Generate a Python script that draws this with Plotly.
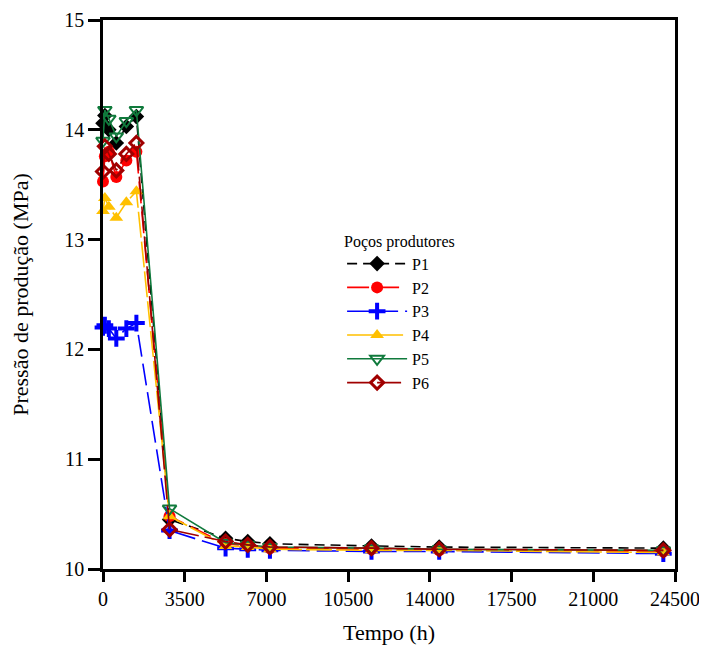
import plotly.graph_objects as go

tempo = [0, 80, 250, 570, 1000, 1430, 2850, 5250, 6200, 7150, 11500, 14400, 24000]
p1 = [14.06, 14.13, 14.00, 13.88, 14.03, 14.12, 10.45, 10.28, 10.25, 10.23, 10.21, 10.20, 10.19]
p2 = [13.53, 13.76, 13.80, 13.57, 13.72, 13.80, 10.48, 10.23, 10.21, 10.19, 10.18, 10.17, 10.16]
p3 = [12.20, 12.22, 12.19, 12.10, 12.19, 12.24, 10.35, 10.19, 10.18, 10.17, 10.16, 10.16, 10.14]
p4 = [13.26, 13.38, 13.30, 13.20, 13.34, 13.44, 10.48, 10.21, 10.20, 10.18, 10.17, 10.17, 10.15]
p5 = [13.90, 14.18, 14.10, 13.94, 14.08, 14.18, 10.55, 10.24, 10.22, 10.20, 10.19, 10.18, 10.17]
p6 = [13.62, 13.85, 13.78, 13.63, 13.78, 13.88, 10.36, 10.25, 10.22, 10.20, 10.19, 10.18, 10.17]

names = ["P1", "P2", "P3", "P4", "P5", "P6"]
series = [p1, p2, p3, p4, p5, p6]
x_ticks = [0, 3500, 7000, 10500, 14000, 17500, 21000, 24500]
y_ticks = [10, 11, 12, 13, 14, 15]

styles = [
    dict(color="#000000", dash="10px,6px", symbol="diamond", msize=12, mline=0),
    dict(color="#ff0000", dash="22px,8px", symbol="circle", msize=12, mline=0),
    dict(color="#0000ff", dash="22px,7px", symbol="cross-thin", msize=12, mline=4),
    dict(color="#ffc000", dash="26px,4px", symbol="triangle-up", msize=12, mline=0),
    dict(color="#107a3c", dash="solid", symbol="triangle-down-open", msize=12, mline=2),
    dict(color="#a00000", dash="24px,6px", symbol="diamond-open", msize=10, mline=3),
]

fig = go.Figure()
for name, ys, st in zip(names, series, styles):
    fig.add_trace(go.Scatter(
        x=tempo, y=ys, name=name, mode="lines+markers",
        line=dict(color=st["color"], width=1.6, dash=st["dash"]),
        marker=dict(symbol=st["symbol"], size=st["msize"], color=st["color"],
                    line=dict(color=st["color"], width=st["mline"])),
        cliponaxis=False,
    ))

font_family = "Liberation Serif"
fig.update_layout(
    width=699, height=641,
    margin=dict(l=95, r=32, t=12, b=80),
    paper_bgcolor="white", plot_bgcolor="white",
    font=dict(family=font_family, color="black", size=20),
    showlegend=True,
    legend=dict(
        x=0.418, y=0.625, xanchor="left", yanchor="top",
        title=dict(text="Poços produtores", font=dict(size=16, family=font_family)),
        font=dict(size=16, family=font_family),
        bgcolor="rgba(0,0,0,0)", itemwidth=60, tracegroupgap=0,
    ),
    xaxis=dict(
        range=[0, 24500], tickmode="array", tickvals=x_ticks,
        ticktext=[str(v) for v in x_ticks], automargin=False,
        showgrid=False, zeroline=False,
        showline=True, linecolor="black", linewidth=2.5, mirror=True,
        ticks="outside", ticklen=10, tickwidth=2.5, tickcolor="black",
        tickfont=dict(size=20, family=font_family),
        title=dict(text="Tempo (h)", font=dict(size=22, family=font_family), standoff=16),
    ),
    yaxis=dict(
        range=[10, 15], tickmode="array", tickvals=y_ticks,
        ticktext=[str(v) for v in y_ticks], automargin=False,
        showgrid=False, zeroline=False,
        showline=True, linecolor="black", linewidth=2.5, mirror=True,
        ticks="outside", ticklen=12, tickwidth=2.5, tickcolor="black",
        tickfont=dict(size=20, family=font_family),
        title=dict(text="Pressão de produção (MPa)", font=dict(size=22, family=font_family), standoff=30),
    ),
)

fig.write_html("out.html")
